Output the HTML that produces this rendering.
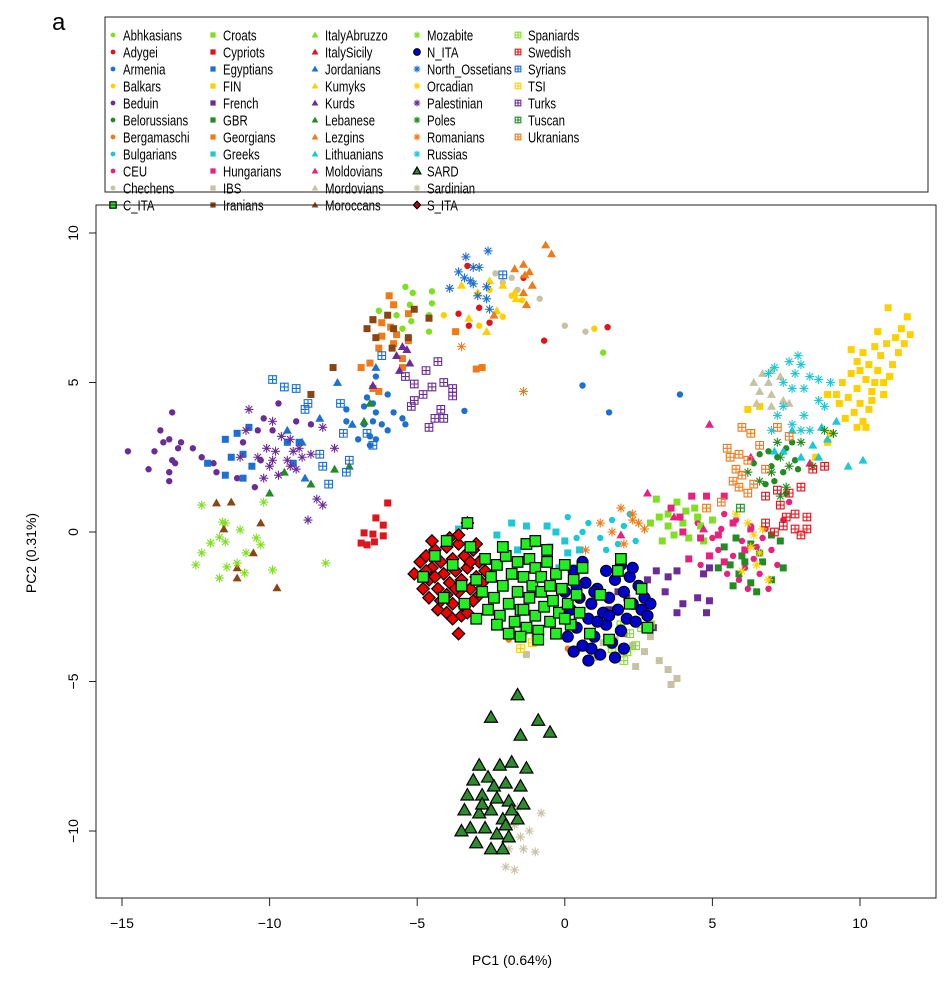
<!DOCTYPE html>
<html><head><meta charset="utf-8"><style>
html,body{margin:0;padding:0;background:#fff;}
svg{display:block;font-family:"Liberation Sans",sans-serif;}
</style></head><body>
<svg id="chart" width="952" height="983" viewBox="0 0 952 983">
<text x="52" y="30" font-size="24">a</text>
<rect x="105" y="17" width="823" height="175" fill="none" stroke="#222" stroke-width="1"/>
<g id="legend"></g>
<rect x="96" y="205" width="840" height="693" fill="none" stroke="#222" stroke-width="1"/>
<g id="axes"></g>
<g id="marks"></g>
<text x="512" y="965" font-size="14" text-anchor="middle">PC1 (0.64%)</text>
<text x="36" y="553" font-size="14" text-anchor="middle" transform="rotate(-90 36 553)">PC2 (0.31%)</text>
</svg>
<script>
const xTicks = [-15,-10,-5,0,5,10];
const yTicks = [-10,-5,0,5,10];
const legendNames = ["Abhkasians","Adygei","Armenia","Balkars","Beduin","Belorussians","Bergamaschi","Bulgarians","CEU","Chechens","C_ITA","Croats","Cypriots","Egyptians","FIN","French","GBR","Georgians","Greeks","Hungarians","IBS","Iranians","ItalyAbruzzo","ItalySicily","Jordanians","Kumyks","Kurds","Lebanese","Lezgins","Lithuanians","Moldovians","Mordovians","Moroccans","Mozabite","N_ITA","North_Ossetians","Orcadian","Palestinian","Poles","Romanians","Russias","SARD","Sardinian","S_ITA","Spaniards","Swedish","Syrians","TSI","Turks","Tuscan","Ukranians"];

const abhkasians=[[-5.4,8.2],[-5.15,8.0],[-4.5,8.05],[-4.5,7.65],[-5.25,7.6],[-6.3,7.4],[-5.7,7.25],[-4.6,7.25],[-5.5,6.8],[-4.6,6.7],[-5.2,7.05],[1.3,6.0]];
const adygei=[[-3.3,8.9],[-3.6,7.3],[-3.25,6.9],[-2.55,7.0],[-2.9,7.5],[-1.4,8.5],[-0.7,6.4],[1.45,6.85]];
const armenia=[[-6.4,5.2],[-6.7,4.5],[-6.5,4.3],[-6.0,4.6],[-7.4,4.1],[-6.8,4.2],[-6.4,4.0],[-5.8,4.0],[-7.4,3.7],[-6.8,3.6],[-6.5,3.7],[-6.2,3.6],[-5.5,3.8],[-5.4,3.6],[-6.0,3.4],[-7.0,3.1],[-6.6,3.2],[-6.4,3.1],[-6.6,2.9],[-3.4,4.05],[0.6,4.9],[1.5,4.0],[3.9,4.6]];
const balkars=[[-4.1,7.25],[-2.9,6.9],[-2.1,7.2],[-2.55,8.1],[-1.45,7.75],[-1.8,7.9],[1.0,6.8]];
const beduin=[[-14.8,2.7],[-13.3,4.0],[-13.7,3.4],[-13.4,3.1],[-13.6,3.0],[-13.0,3.0],[-13.9,2.7],[-13.1,2.8],[-12.6,2.8],[-13.3,2.4],[-13.2,2.3],[-14.1,2.1],[-13.4,2.0],[-13.4,1.7],[-12.3,2.5],[-11.9,2.3],[-11.8,2.0],[-11.1,1.8],[-10.5,1.5],[-10.9,3.0],[-9.7,4.3],[-9.1,3.7],[-8.6,3.6],[-10.2,3.8],[-10.4,3.4],[-10.3,2.4],[-9.9,3.4]];
const belorussians=[[6.6,2.6],[6.9,2.7],[7.2,2.5],[7.5,2.8],[7.8,2.4],[6.4,2.3],[7.0,2.2],[7.4,2.0],[7.9,2.1],[7.1,1.7],[7.5,1.3],[6.8,1.6],[7.7,3.0]];
const bergamaschi=[[0.1,-3.9],[-1.9,-3.6]];
const bulgarians=[[0.1,0.5],[0.6,0.0],[1.2,-0.2],[1.6,0.4],[2.0,0.2],[1.8,-0.4],[2.4,-0.3],[0.8,0.3],[1.4,-0.6],[2.2,0.6],[0.4,-0.2]];
const ceu=[[4.5,0.3],[5.0,-0.2],[5.4,0.6],[5.8,0.4],[6.0,-0.3],[6.3,0.2],[5.7,-0.8],[6.1,-1.2],[6.5,-0.5],[6.8,0.1],[7.0,-0.6],[6.6,-1.4],[6.2,-1.9],[7.2,-1.1],[5.5,-1.4],[6.9,-1.9],[7.4,0.4],[5.2,-0.6],[6.4,-0.9],[5.9,-1.6],[7.6,1.0],[4.6,-1.1],[5.3,0.1],[6.7,-0.2]];
const chechens=[[-2.35,8.65],[-2.1,8.35],[-1.8,8.5],[-0.85,7.8],[-1.6,8.1],[0.0,6.9],[0.7,6.7]];
const cIta=[[-2.7,-0.9],[-2.5,-1.5],[-2.4,-2.2],[-2.3,-1.1],[-2.2,-2.8],[-2.1,-1.8],[-2.0,-0.8],[-1.9,-2.4],[-1.8,-1.4],[-1.7,-3.0],[-1.6,-1.0],[-1.6,-2.0],[-1.5,-2.6],[-1.4,-1.5],[-1.3,-3.2],[-1.2,-0.9],[-1.2,-2.2],[-1.1,-1.8],[-1.0,-2.8],[-1.0,-1.2],[-0.9,-3.3],[-0.8,-2.0],[-0.8,-1.5],[-0.7,-2.5],[-0.6,-1.0],[-0.5,-3.0],[-0.5,-1.8],[-0.4,-2.3],[-0.3,-1.4],[-0.2,-2.7],[-0.1,-1.9],[0.0,-1.1],[0.1,-2.4],[0.2,-3.1],[0.3,-1.6],[0.4,-2.1],[0.5,-2.7],[-1.9,-3.4],[-1.5,-3.5],[-2.6,-2.6],[-2.8,-2.0],[-3.0,-1.6],[-3.2,-0.5],[-3.5,-1.8],[-3.8,-1.1],[-4.1,-2.2],[-4.4,-0.8],[-4.8,-1.5],[-4.0,-0.3],[-3.4,-2.4],[-3.0,-2.9],[-3.3,0.3],[-0.6,-0.6],[-1.3,-0.4],[-2.1,-0.5],[0.6,-1.2],[1.2,-2.1],[1.8,-1.3],[2.8,-3.2],[0.85,-3.4],[1.9,-0.9],[1.5,-3.6],[2.6,-1.9],[-0.3,-3.4],[-1.0,-0.3],[-0.9,-3.6],[-2.3,-3.1],[-1.4,-2.6],[0.0,-2.9],[2.2,-2.4]];
const croats=[[3.1,1.1],[3.5,0.6],[3.8,1.0],[4.1,0.7],[4.4,0.8],[3.5,0.2],[4.0,0.3],[4.6,0.2],[5.0,0.4],[4.2,-0.2],[4.7,-0.3],[2.9,0.3],[3.3,-0.3],[3.7,-0.1],[4.5,0.5],[3.2,0.5]];
const cypriots=[[-6.0,0.97],[-6.4,0.47],[-6.15,0.23],[-6.8,-0.03],[-6.5,-0.07],[-6.15,-0.13],[-6.9,-0.37],[-6.7,-0.43],[-6.45,-0.33]];
const egyptians=[[-11.5,3.1],[-11.1,3.3],[-10.7,3.5],[-11.3,2.5],[-10.9,2.6],[-12.1,2.3],[-11.5,1.9],[-10.9,1.8],[-10.6,2.2],[-9.4,3.0],[-9.0,3.0],[-9.2,2.3]];
const fin=[[10.95,7.5],[11.6,7.2],[11.4,6.8],[11.7,6.6],[11.2,6.5],[10.6,6.7],[10.9,6.3],[10.5,6.2],[11.3,6.0],[10.1,6.0],[10.7,5.9],[11.1,5.6],[10.3,5.6],[9.9,5.7],[10.6,5.4],[11.0,5.2],[9.7,5.3],[10.2,5.1],[10.5,5.0],[9.4,5.0],[9.9,4.8],[10.4,4.7],[10.8,4.6],[9.6,4.5],[10.0,4.3],[10.3,4.1],[9.3,4.3],[9.8,4.0],[10.1,3.7],[9.5,3.8],[9.9,3.5],[10.2,3.5],[9.7,6.1],[10.8,5.0],[10.0,5.4],[9.2,4.6],[11.5,6.3],[10.4,4.4],[9.0,3.3],[8.9,3.0],[8.5,2.5],[6.2,4.1],[6.6,4.2],[8.9,4.6]];
const french=[[2.8,-1.6],[3.1,-1.3],[3.5,-1.5],[3.8,-1.3],[3.4,-2.0],[4.0,-2.4],[3.8,-2.7],[4.7,-1.4],[4.9,-1.2],[4.5,-2.2],[4.9,-2.3],[3.0,-3.2],[1.8,-2.0],[2.1,-2.2],[4.8,-2.7],[2.0,-3.4],[1.5,-2.6]];
const gbr=[[5.4,-0.5],[5.8,-0.2],[6.0,-0.8],[6.3,-0.4],[5.6,-1.1],[5.9,-1.4],[6.3,-1.7],[6.7,-1.0],[7.0,-0.1],[7.3,-0.3],[7.4,-1.2],[5.2,-1.2],[6.6,-0.7],[6.1,-1.0],[7.0,-1.6],[5.7,-1.8],[6.5,-2.0]];
const georgians=[[-5.95,7.9],[-5.8,7.6],[-6.5,7.1],[-6.2,7.0],[-5.9,6.85],[-5.3,7.3],[-6.2,6.55],[-5.7,6.6],[-5.3,6.4],[-6.3,6.15],[-5.8,6.3],[-5.5,5.8],[-5.5,5.5],[-6.6,5.65],[-6.9,5.5],[-3.7,6.7],[-3.0,5.45],[-2.8,5.5],[-6.3,4.7],[-6.5,4.8]];
const greeks=[[-4.0,-0.2],[-3.6,0.1],[-2.3,-0.1],[-1.8,0.3],[-1.3,0.2],[-0.6,0.2],[-0.3,0.0],[0.1,-0.7],[0.5,-0.6],[-0.5,-0.5],[-1.0,-0.4],[-1.6,-0.6],[0.0,-0.3],[-2.8,-1.0],[0.3,-1.2],[-0.2,-1.2]];
const hungarians=[[3.6,0.8],[4.3,1.2],[4.8,1.2],[5.4,1.2],[4.0,0.0],[4.6,-0.2],[5.2,-0.1],[5.7,0.3],[4.2,-0.9],[4.9,-0.8],[6.1,-0.6],[5.4,-1.0],[3.9,0.5],[6.3,0.1]];
const ibs=[[1.7,-3.6],[2.0,-4.0],[2.3,-3.8],[2.7,-4.0],[2.9,-3.5],[3.2,-4.3],[3.5,-4.6],[3.8,-4.9],[3.6,-5.1],[2.4,-4.5],[1.0,-4.2],[0.6,-3.9],[-1.3,-4.1],[1.3,-3.7]];
const iranians=[[-6.7,6.8],[-6.5,7.1],[-6.0,7.25],[-5.8,6.8],[-5.1,7.45],[-6.4,6.5],[-5.3,6.5],[-5.85,6.15],[-4.6,7.15],[-7.85,5.5],[-8.6,4.6]];
const italyAbruzzo=[[-2.1,-0.9]];
const italySicily=[[-3.3,-1.0]];
const jordanians=[[-8.3,3.8],[-7.7,5.0],[-8.8,1.8],[-9.4,3.4],[-6.4,5.5],[-7.2,3.6],[-8.9,3.0]];
const kumyks=[[-3.5,8.25],[-3.25,7.15],[-2.65,6.7],[-2.95,8.0],[-2.55,8.4],[-2.1,8.25],[-1.7,8.0],[-1.65,7.8],[-2.3,7.4]];
const kurds=[[-5.7,5.9],[-5.35,6.1],[-5.25,5.65],[-5.6,5.4],[-6.5,4.9],[-5.5,6.2]];
const lebanese=[[-9.5,2.0],[-8.6,1.6],[-7.8,2.1],[-7.3,2.2],[-6.8,3.7],[-10.0,1.3],[-6.6,4.3]];
const lezgins=[[-0.65,9.6],[-0.45,9.3],[-1.4,8.95],[-1.7,8.8],[-1.2,8.7],[-1.35,8.6],[-1.1,8.25],[-1.4,8.0],[-1.3,7.6],[-2.4,7.25]];
const lithuanians=[[7.7,3.4],[8.7,3.5],[9.2,3.7],[8.9,3.1],[7.4,2.7],[8.0,2.5],[8.6,2.5],[9.6,2.2],[10.1,2.4],[7.1,2.7],[8.4,2.9]];
const moldovians=[[4.9,3.6],[2.8,1.3],[8.3,2.3],[6.3,2.5],[1.9,-0.1],[4.7,0.1],[3.7,0.5]];
const mordovians=[[6.4,5.0],[6.7,5.3],[7.0,5.4],[7.3,5.2],[6.6,4.7],[7.0,4.6],[7.4,4.4],[6.5,4.3],[7.0,4.2],[7.6,4.3],[6.9,5.0]];
const moroccans=[[-11.8,0.97],[-11.3,1.0],[-10.3,0.3],[-11.55,0.1],[-10.55,-0.7],[-11.1,-1.2],[-11.1,-1.54],[-9.75,-1.87]];
const mozabite=[[-12.3,0.9],[-10.2,1.0],[-11.6,0.33],[-11.5,0.3],[-11.0,0.07],[-11.7,-0.17],[-10.45,-0.2],[-12.0,-0.37],[-11.5,-0.33],[-10.3,-0.43],[-12.3,-0.7],[-10.8,-0.7],[-12.5,-1.1],[-11.45,-1.17],[-11.1,-1.04],[-9.9,-1.27],[-11.7,-1.54],[-10.85,-1.37],[-8.1,-1.04]];
const nIta=[[0.0,-2.0],[0.2,-2.6],[0.3,-1.3],[0.4,-3.2],[0.5,-2.2],[0.6,-3.8],[0.7,-1.7],[0.8,-2.9],[0.9,-2.4],[1.0,-3.5],[1.1,-1.9],[1.2,-4.1],[1.3,-2.7],[1.4,-3.1],[1.5,-2.2],[1.6,-3.7],[1.7,-1.6],[1.8,-2.6],[1.9,-3.3],[2.0,-2.0],[2.1,-2.9],[2.2,-1.5],[2.3,-2.4],[2.4,-3.0],[2.5,-1.8],[2.6,-2.6],[2.7,-2.2],[2.8,-2.8],[0.1,-3.5],[0.3,-4.0],[0.8,-4.3],[1.1,-3.0],[1.4,-1.3],[0.6,-1.0],[2.0,-3.9],[1.7,-4.2],[-0.1,-2.7],[2.9,-2.4],[1.0,-2.0],[1.5,-2.8],[0.4,-1.8],[2.3,-1.2],[1.9,-1.1],[0.9,-3.9]];
const northOssetians=[[-3.35,9.2],[-2.6,9.4],[-3.6,8.7],[-3.1,8.85],[-2.9,8.85],[-3.4,8.5],[-3.1,8.3],[-3.9,8.15],[-2.65,8.2],[-2.95,7.9],[-2.65,7.8],[-2.55,7.45],[-3.2,8.4]];
const orcadian=[[5.8,0.6],[6.2,0.3],[6.4,-0.1],[6.3,-0.5],[6.6,-0.7],[6.5,-1.1],[6.0,-1.3],[6.9,-1.6],[6.7,0.1]];
const palestinian=[[-10.7,4.1],[-9.9,3.7],[-10.8,3.4],[-9.6,3.2],[-9.3,3.1],[-10.1,2.8],[-9.8,2.7],[-9.2,2.7],[-8.9,2.5],[-9.4,2.4],[-10.4,2.5],[-11.0,2.5],[-10.0,2.2],[-9.3,2.2],[-10.2,1.8],[-9.7,1.9],[-9.1,2.1],[-8.6,2.6],[-8.2,3.5],[-7.8,2.8],[-8.4,1.1],[-8.2,0.9],[-8.7,0.4],[-9.0,2.8],[-9.9,2.4]];
const poles=[[6.2,2.0],[6.6,1.7],[7.0,2.0],[7.3,2.5],[7.6,2.2],[8.0,3.0],[8.4,2.2],[7.5,1.5],[7.3,1.2],[8.8,3.4],[9.1,3.3],[7.2,3.0]];
const romanians=[[0.7,-0.6],[1.2,0.3],[1.6,0.0],[2.0,-0.4],[2.3,0.6],[2.5,0.3],[1.9,0.8],[2.7,0.1],[-3.5,6.2],[-1.4,4.7],[2.3,0.4]];
const russias=[[6.9,5.3],[7.1,5.5],[7.4,5.0],[7.6,5.7],[7.8,5.3],[8.0,5.6],[8.3,5.2],[8.6,5.1],[7.7,4.8],[8.1,4.8],[8.6,4.4],[7.2,3.9],[7.0,3.4],[7.7,3.6],[8.0,3.4],[8.3,3.4],[7.4,4.2],[8.1,3.9],[7.9,5.9],[9.0,5.0],[8.8,4.2]];
const sard=[[-1.6,-5.45],[-2.5,-6.2],[-0.9,-6.3],[-0.5,-6.7],[-1.5,-6.8],[-2.9,-7.8],[-2.2,-7.8],[-1.8,-7.7],[-1.3,-7.9],[-3.1,-8.3],[-2.6,-8.2],[-2.0,-8.4],[-1.5,-8.5],[-3.3,-8.8],[-2.8,-8.8],[-2.3,-8.9],[-1.9,-9.0],[-1.4,-9.1],[-3.4,-9.3],[-2.9,-9.4],[-2.5,-9.3],[-2.1,-9.6],[-1.6,-9.6],[-3.2,-9.9],[-2.7,-9.9],[-2.3,-10.1],[-1.9,-10.2],[-3.0,-10.4],[-2.5,-10.6],[-2.1,-10.6],[-3.5,-10.0],[-1.8,-9.3],[-2.4,-8.5],[-2.8,-9.1],[-2.0,-9.8]];
const sardinian=[[-1.7,-9.8],[-1.5,-10.2],[-1.2,-10.0],[-1.9,-10.6],[-1.4,-10.6],[-2.0,-11.2],[-1.7,-11.3],[-1.0,-10.7],[-0.8,-9.4],[-1.6,-9.2]];
const sIta=[[-5.1,-1.4],[-4.9,-1.0],[-4.7,-0.8],[-4.6,-1.6],[-4.5,-1.2],[-4.4,-0.6],[-4.3,-1.9],[-4.2,-1.0],[-4.1,-1.4],[-4.0,-0.5],[-4.0,-2.1],[-3.9,-1.7],[-3.8,-0.9],[-3.8,-2.4],[-3.7,-1.3],[-3.6,-0.4],[-3.6,-2.0],[-3.5,-1.6],[-3.4,-0.8],[-3.4,-2.5],[-3.3,-1.2],[-3.2,-1.9],[-3.1,-0.6],[-3.1,-2.3],[-3.0,-1.5],[-2.9,-1.0],[-2.9,-2.1],[-2.8,-1.7],[-4.8,-1.9],[-4.6,-2.2],[-4.3,-2.6],[-4.0,-2.7],[-3.8,-2.9],[-3.6,-0.1],[-3.3,0.3],[-4.5,-0.3],[-4.2,-2.3],[-3.9,-0.2],[-3.5,-2.8],[-3.2,-1.0],[-2.7,-1.3],[-4.7,-1.3],[-4.4,-1.5],[-3.7,-1.9],[-3.3,-2.7],[-3.6,-3.4],[-3.0,-0.4]];
const spaniards=[[1.9,-3.1],[2.2,-3.4],[2.6,-3.2],[2.9,-3.1],[2.4,-3.8],[2.1,-4.0],[2.0,-4.3],[1.6,-3.9]];
const swedish=[[6.8,1.2],[7.2,1.4],[7.6,1.3],[8.0,1.5],[8.4,2.1],[7.3,0.9],[7.5,0.5],[7.8,0.6],[7.4,0.2],[7.8,0.1],[8.2,0.5],[6.8,0.3],[7.1,0.0],[8.0,-0.1],[8.2,0.1],[8.8,2.2]];
const syrians=[[-9.9,5.1],[-9.5,4.85],[-9.1,4.8],[-8.7,4.3],[-8.8,4.1],[-7.6,4.3],[-7.5,3.3],[-8.3,2.6],[-7.3,2.4],[-8.2,2.2],[-7.4,2.0],[-8.0,1.6],[-6.2,5.9],[-6.5,2.9],[-6.7,3.3],[-2.1,8.6]];
const tsi=[[-1.8,-3.4],[-1.4,-3.3],[-1.0,-3.5],[-1.5,-3.9],[-1.1,-3.7]];
const turks=[[-4.3,5.7],[-4.7,5.4],[-5.4,5.2],[-5.1,4.95],[-4.5,4.85],[-4.1,5.0],[-3.8,4.8],[-3.8,4.55],[-4.8,4.6],[-5.1,4.4],[-5.2,4.2],[-4.2,4.1],[-4.1,3.8],[-4.6,3.5],[-4.4,3.8]];
const tuscan=[[5.95,0.8]];
const ukranians=[[6.0,3.5],[6.3,3.3],[5.6,2.5],[5.9,2.6],[6.2,2.4],[6.6,2.9],[5.8,2.1],[6.0,1.9],[5.7,1.7],[5.9,1.5],[6.4,1.6],[6.8,2.1],[7.2,3.5],[7.6,3.2],[5.5,2.8],[5.3,1.0],[4.8,0.8],[6.2,1.3]];

const C={lg:"#7FE020",rd:"#E0141C",bl:"#1E6FD2",yl:"#FFD000",pu:"#6B2C98",dg:"#228B22",or:"#F07A18",cy:"#1CC8D6",pk:"#E8207F",be:"#C9C1A3",br:"#8B4513"};
const series=[
["Abhkasians",abhkasians,C.lg,"c"],["Adygei",adygei,C.rd,"c"],["Armenia",armenia,C.bl,"c"],["Balkars",balkars,C.yl,"c"],["Beduin",beduin,C.pu,"c"],["Belorussians",belorussians,C.dg,"c"],["Bergamaschi",bergamaschi,C.or,"c"],["Bulgarians",bulgarians,C.cy,"c"],["CEU",ceu,C.pk,"c"],["Chechens",chechens,C.be,"c"],
["Croats",croats,C.lg,"s"],["Cypriots",cypriots,C.rd,"s"],["Egyptians",egyptians,C.bl,"s"],["FIN",fin,C.yl,"s"],["French",french,C.pu,"s"],["GBR",gbr,C.dg,"s"],["Georgians",georgians,C.or,"s"],["Greeks",greeks,C.cy,"s"],["Hungarians",hungarians,C.pk,"s"],["IBS",ibs,C.be,"s"],["Iranians",iranians,C.br,"s"],
["ItalyAbruzzo",italyAbruzzo,C.lg,"t"],["ItalySicily",italySicily,C.rd,"t"],["Jordanians",jordanians,C.bl,"t"],["Kumyks",kumyks,C.yl,"t"],["Kurds",kurds,C.pu,"t"],["Lebanese",lebanese,C.dg,"t"],["Lezgins",lezgins,C.or,"t"],["Lithuanians",lithuanians,C.cy,"t"],["Moldovians",moldovians,C.pk,"t"],["Mordovians",mordovians,C.be,"t"],["Moroccans",moroccans,C.br,"t"],
["Mozabite",mozabite,C.lg,"a"],["North_Ossetians",northOssetians,C.bl,"a"],["Orcadian",orcadian,C.yl,"a"],["Palestinian",palestinian,C.pu,"a"],["Poles",poles,C.dg,"a"],["Romanians",romanians,C.or,"a"],["Russias",russias,C.cy,"a"],["Sardinian",sardinian,C.be,"a"],
["Spaniards",spaniards,C.lg,"g"],["Swedish",swedish,C.rd,"g"],["Syrians",syrians,C.bl,"g"],["TSI",tsi,C.yl,"g"],["Turks",turks,C.pu,"g"],["Tuscan",tuscan,C.dg,"g"],["Ukranians",ukranians,C.or,"g"],
["S_ITA",sIta,"#EE0000","D"],["N_ITA",nIta,"#0000CC","C"],["C_ITA",cIta,"#22EE22","S"],["SARD",sard,"#2E8B2E","T"]
];
const NS="http://www.w3.org/2000/svg";
function sx(v){return 564.8+v*29.52;}
function sy(v){return 532-v*29.9;}
function el(tag,attrs,parent){const e=document.createElementNS(NS,tag);for(const k in attrs)e.setAttribute(k,attrs[k]);parent.appendChild(e);return e;}
function marker(parent,x,y,shape,color,scale){
  const s=scale||1;let e;
  if(shape==="c"){e=el("circle",{cx:x,cy:y,r:3.2*s,fill:color},parent);}
  else if(shape==="s"){e=el("rect",{x:x-3.5*s,y:y-3.5*s,width:7*s,height:7*s,fill:color},parent);}
  else if(shape==="t"){const h=4.5*s;e=el("polygon",{points:`${x},${y-h} ${x+h},${y+h*0.75} ${x-h},${y+h*0.75}`,fill:color},parent);}
  else if(shape==="a"){const r=4.5*s,d=r*0.72;e=el("path",{d:`M${x-r},${y}H${x+r}M${x},${y-r}V${y+r}M${x-d},${y-d}L${x+d},${y+d}M${x-d},${y+d}L${x+d},${y-d}`,stroke:color,"stroke-width":1.1,fill:"none"},parent);}
  else if(shape==="g"){const r=3.8*s;e=el("path",{d:`M${x-r},${y-r}h${2*r}v${2*r}h${-2*r}zM${x-r},${y}H${x+r}M${x},${y-r}V${y+r}`,stroke:color,"stroke-width":1.1,fill:"none"},parent);}
  else if(shape==="D"){const r=6.2*s;e=el("polygon",{points:`${x},${y-r} ${x+r},${y} ${x},${y+r} ${x-r},${y}`,fill:color,stroke:"#000","stroke-width":1.2},parent);}
  else if(shape==="C"){e=el("circle",{cx:x,cy:y,r:5.6*s,fill:color,stroke:"#000","stroke-width":1},parent);}
  else if(shape==="S"){e=el("rect",{x:x-5.3*s,y:y-5.3*s,width:10.6*s,height:10.6*s,fill:color,stroke:"#000","stroke-width":1.2},parent);}
  else if(shape==="T"){const h=6.5*s;e=el("polygon",{points:`${x},${y-h} ${x+h},${y+h*0.75} ${x-h},${y+h*0.75}`,fill:color,stroke:"#000","stroke-width":1.2},parent);}
  return e;
}
const ax=document.getElementById("axes");
xTicks.forEach(t=>{
  const l=el("line",{x1:sx(t),x2:sx(t),y1:898,y2:906,stroke:"#222"},ax);
  
  
  const tx=el("text",{x:sx(t),y:928,"font-size":14,"text-anchor":"middle"},ax);
  tx.textContent=(t<0?"\u2212":"")+Math.abs(t);
  
  
});
yTicks.forEach(t=>{
  const l=el("line",{x1:89,x2:96,y1:sy(t),y2:sy(t),stroke:"#222"},ax);
  
  
  const yy=sy(t);
  const tx=el("text",{x:78,y:yy,"font-size":14,"text-anchor":"middle",transform:`rotate(-90 78 ${yy})`},ax);
  tx.textContent=(t<0?"\u2212":"")+Math.abs(t);
  
  
});
const mk=document.getElementById("marks");
series.forEach(s=>{
  const g=el("g",{},mk);
  
  
  s[1].forEach(p=>{
    const m=marker(g,sx(p[0]),sy(p[1]),s[3],s[2]);
    
    
  });
});
const lg=document.getElementById("legend");
const colX=[113,213,315,417,518];
legendNames.forEach((n,i)=>{
  const col=Math.floor(i/11),row=i%11;
  const s=series.find(q=>q[0]===n);
  const x=colX[col],y=35+row*17;
  const g=el("g",{},lg);
  
  
  marker(g,x,y,s[3],s[2],/[A-Z]/.test(s[3])?0.6:0.75);
  const t=el("text",{x:0,y:0,"font-size":15,transform:`translate(${x+10},${y+5.5}) scale(0.76,1)`},g);
  t.textContent=n;
});
</script>
</body></html>
